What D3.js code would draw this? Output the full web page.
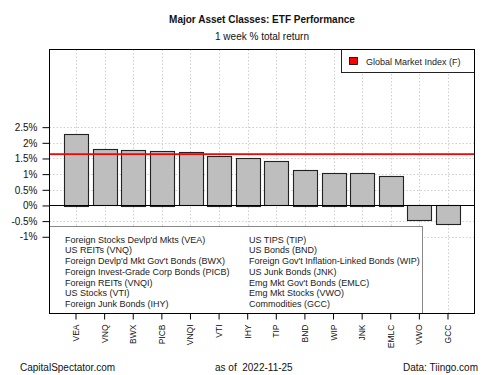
<!DOCTYPE html>
<html>
<head>
<meta charset="utf-8">
<script src="https://cdn.jsdelivr.net/npm/d3@7"></script>
<style>
  html, body { margin: 0; padding: 0; background: #fff; }
  svg { display: block; font-family: "Liberation Sans", Arial, sans-serif; }
</style>
</head>
<body>
<svg id="chart" width="500" height="375"></svg>
<script>
// ---- data ----
const tickers = ["VEA","VNQ","BWX","PICB","VNQI","VTI","IHY","TIP","BND","WIP","JNK","EMLC","VWO","GCC"];
const names = [
  "Foreign Stocks Devlp'd Mkts (VEA)",
  "US REITs (VNQ)",
  "Foreign Devlp'd Mkt Gov't Bonds (BWX)",
  "Foreign Invest-Grade Corp Bonds (PICB)",
  "Foreign REITs (VNQI)",
  "US Stocks (VTI)",
  "Foreign Junk Bonds (IHY)",
  "US TIPS (TIP)",
  "US Bonds (BND)",
  "Foreign Gov't Inflation-Linked Bonds (WIP)",
  "US Junk Bonds (JNK)",
  "Emg Mkt Gov't Bonds (EMLC)",
  "Emg Mkt Stocks (VWO)",
  "Commodities (GCC)"
];
const returns = [2.29, 1.80, 1.78, 1.75, 1.70, 1.59, 1.53, 1.41, 1.14, 1.04, 1.04, 0.95, -0.49, -0.62];
const globalIndex = 1.64;
const yTicks = [-1, -0.5, 0, 0.5, 1, 1.5, 2, 2.5];
const yTickLabels = ["-1%", "-0.5%", "0%", "0.5%", "1%", "1.5%", "2%", "2.5%"];
const titleText = "Major Asset Classes: ETF Performance";
const subtitleText = "1 week % total return";
const legendLabel = "Global Market Index (F)";
const footerLeft = "CapitalSpectator.com";
const footerMid = "as of  2022-11-25";
const footerRight = "Data: Tiingo.com";

// ---- layout ----
const svg = d3.select("#chart");
const L = 49.5, R = 474.5, T = 49.5, B = 313.5;

const x = d3.scaleBand().domain(tickers).range([L, R]).paddingInner(1/6).paddingOuter(0.51);
const y = d3.scaleLinear().domain([-3.45, 4.98]).range([B, T]);

// grid
const grid = svg.append("g").attr("stroke", "#cfcfcf").attr("stroke-dasharray", "1.5,2").attr("stroke-width", 1);
grid.selectAll("line.h").data(yTicks.filter(d => d !== 0)).join("line")
  .attr("x1", L).attr("x2", R)
  .attr("y1", d => Math.round(y(d)) + 0.5).attr("y2", d => Math.round(y(d)) + 0.5);
grid.selectAll("line.v").data(tickers).join("line")
  .attr("y1", T).attr("y2", B)
  .attr("x1", d => Math.round(x(d) + x.bandwidth()/2) + 0.5)
  .attr("x2", d => Math.round(x(d) + x.bandwidth()/2) + 0.5);

// bars
svg.append("g").selectAll("rect").data(tickers).join("rect")
  .attr("x", d => Math.round(x(d)) + 0.5)
  .attr("width", Math.round(x.bandwidth()))
  .attr("y", (d, i) => Math.round(y(Math.max(0, returns[i]))) + 0.5)
  .attr("height", (d, i) => Math.round(Math.abs(y(returns[i]) - y(0))))
  .attr("fill", "#bebebe").attr("stroke", "#222").attr("stroke-width", 1.1);

// zero line
svg.append("line").attr("x1", L).attr("x2", R)
  .attr("y1", Math.round(y(0)) + 0.5).attr("y2", Math.round(y(0)) + 0.5)
  .attr("stroke", "#000").attr("stroke-width", 1);

// global index line
svg.append("line").attr("x1", L).attr("x2", R)
  .attr("y1", y(globalIndex)).attr("y2", y(globalIndex))
  .attr("stroke", "#ff0000").attr("stroke-width", 1.6);

// y axis
const yAxis = d3.axisLeft(y).tickValues(yTicks).tickSize(7).tickPadding(5)
  .tickFormat((d, i) => yTickLabels[i]);
const ya = svg.append("g").attr("transform", `translate(${L},0)`).call(yAxis);
ya.select(".domain").remove();
ya.selectAll(".tick line").attr("stroke", "#000");
ya.selectAll(".tick text").attr("font-size", 10).attr("fill", "#111")
  .attr("font-family", "Liberation Sans, Arial, sans-serif");

// x axis
const xAxis = d3.axisBottom(x).tickSize(6).tickPadding(5);
const xa = svg.append("g").attr("transform", `translate(0,${B})`).call(xAxis);
xa.select(".domain").remove();
xa.selectAll(".tick line").attr("stroke", "#000");
xa.selectAll(".tick text")
  .attr("font-size", 8.5).attr("fill", "#111")
  .attr("font-family", "Liberation Sans, Arial, sans-serif")
  .attr("transform", "rotate(-90)")
  .attr("text-anchor", "end")
  .attr("dy", "0.35em")
  .attr("x", -11).attr("y", 0);

// big legend box
const lg = svg.append("g");
lg.append("rect").attr("x", L).attr("y", 226.5).attr("width", 422.5 - L).attr("height", B - 226.5)
  .attr("fill", "#fff").attr("stroke", "#888").attr("stroke-width", 1);
lg.selectAll("text").data(names).join("text")
  .attr("x", (d, i) => i < 7 ? 65 : 249)
  .attr("y", (d, i) => 242.7 + (i % 7) * 10.75)
  .attr("font-size", 9).attr("fill", "#222")
  .text(d => d);

// top-right legend
const lg2 = svg.append("g");
lg2.append("rect").attr("x", 341.5).attr("y", T).attr("width", R - 341.5).attr("height", 23)
  .attr("fill", "#fff").attr("stroke", "#222").attr("stroke-width", 1);
lg2.append("rect").attr("x", 349.5).attr("y", 57.5).attr("width", 8).attr("height", 7)
  .attr("fill", "#ff0000").attr("stroke", "#000").attr("stroke-width", 0.8);
lg2.append("text").attr("x", 366).attr("y", 65).attr("font-size", 9).attr("fill", "#222").text(legendLabel);

// plot border
svg.append("rect").attr("x", L).attr("y", T).attr("width", R - L).attr("height", B - T)
  .attr("fill", "none").attr("stroke", "#000").attr("stroke-width", 1);

// titles
const cx = (L + R) / 2;
svg.append("text").attr("x", cx).attr("y", 23).attr("text-anchor", "middle")
  .attr("font-size", 10).attr("font-weight", "bold").attr("fill", "#111").text(titleText);
svg.append("text").attr("x", cx).attr("y", 40).attr("text-anchor", "middle")
  .attr("font-size", 10).attr("fill", "#111").text(subtitleText);

// footer
svg.append("text").attr("x", 20).attr("y", 371).attr("font-size", 10).attr("fill", "#111").text(footerLeft);
svg.append("text").attr("x", 215).attr("y", 371).attr("font-size", 10).attr("fill", "#111")
  .attr("xml:space", "preserve").style("white-space", "pre").text(footerMid);
svg.append("text").attr("x", 478).attr("y", 371).attr("text-anchor", "end").attr("font-size", 10).attr("fill", "#111").text(footerRight);
</script>
</body>
</html>
